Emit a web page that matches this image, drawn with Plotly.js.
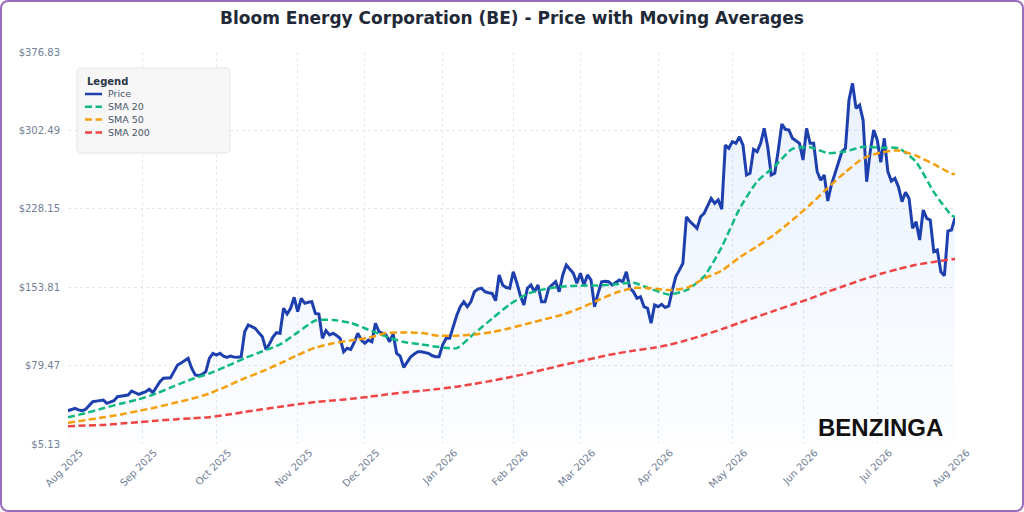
<!DOCTYPE html>
<html>
<head>
<meta charset="utf-8">
<script src="https://cdn.plot.ly/plotly-3.0.1.min.js"></script>
<style>
	html, body { margin: 0; padding: 0; background: #ffffff; }
	#wrap { position: relative; width: 1024px; height: 512px; }
	#chart { width: 1024px; height: 512px; }
	#frame {
		position: absolute; left: 0; top: 0; width: 1024px; height: 512px;
		box-sizing: border-box; border: 2px solid #9a6cbd; border-radius: 8px;
		pointer-events: none;
	}
</style>
</head>
<body>
<div id="wrap">
	<div id="chart"></div>
	<div id="frame"></div>
</div>
<script>
// trading calendar: weekdays from Aug 1 2025 to Aug 3 2026, minus NYSE holidays
const firstDay = '2025-08-01';
const lastDay = '2026-08-03';
const holidays = [
	'2025-09-01', '2025-11-27', '2025-12-25', '2026-01-01', '2026-01-19',
	'2026-02-16', '2026-04-03', '2026-05-25', '2026-06-19', '2026-07-03'
];
const monthNames = ['Jan', 'Feb', 'Mar', 'Apr', 'May', 'Jun', 'Jul', 'Aug', 'Sep', 'Oct', 'Nov', 'Dec'];

// daily close (252 trading days)
const price = [
	36.7, 38.0, 39.0, 37.5, 36.7, 38.0, 41.5, 45.2, 45.8, 46.2,
	46.8, 43.7, 45.0, 46.2, 50.0, 50.6, 51.2, 51.6, 55.4, 53.5,
	52.2, 53.5, 54.7, 57.0, 53.8, 59.0, 64.2, 67.5, 68.0, 68.0,
	74.0, 80.0, 82.0, 83.8, 86.4, 77.0, 70.6, 70.0, 71.2, 73.7,
	86.4, 91.1, 89.5, 91.1, 88.5, 87.3, 88.6, 87.5, 87.3, 87.9,
	111.6, 118.0, 116.5, 114.8, 110.5, 106.9, 94.9, 100.0, 106.5, 110.7,
	110.1, 133.8, 128.4, 133.8, 144.2, 130.6, 143.2, 138.5, 139.5, 140.0,
	129.0, 128.4, 105.3, 112.6, 108.5, 110.1, 108.0, 105.3, 92.6, 95.9,
	94.9, 101.5, 110.1, 103.7, 100.6, 103.7, 102.1, 119.6, 111.6, 110.0,
	108.5, 102.1, 109.4, 91.1, 88.5, 77.8, 83.0, 87.9, 90.5, 92.6,
	92.6, 92.0, 91.1, 89.0, 87.9, 87.9, 99.0, 105.3, 105.3, 116.3,
	127.0, 135.3, 140.0, 135.3, 140.0, 149.5, 152.0, 152.8, 149.5, 148.5,
	147.9, 141.0, 165.4, 155.9, 153.5, 152.8, 168.5, 158.0, 146.0, 136.9,
	152.8, 155.9, 149.5, 155.9, 140.0, 140.0, 152.8, 156.0, 159.0, 149.5,
	165.4, 174.8, 170.5, 167.0, 157.5, 167.0, 155.9, 165.4, 160.6, 135.3,
	148.0, 159.0, 159.5, 159.0, 155.9, 158.5, 160.6, 159.0, 168.5, 152.8,
	149.5, 143.3, 144.8, 135.3, 133.8, 119.6, 136.9, 135.3, 137.6, 134.5,
	136.0, 151.1, 163.8, 170.0, 176.5, 220.6, 216.0, 213.0, 209.6, 220.6,
	223.8, 231.0, 238.0, 233.3, 236.5, 227.7, 288.6, 285.5, 291.8, 290.2,
	296.5, 288.6, 260.2, 261.8, 284.5, 282.3, 290.2, 304.4, 287.0, 260.2,
	261.8, 283.9, 308.5, 303.5, 302.8, 295.0, 292.5, 290.2, 274.4, 304.4,
	290.2, 290.2, 263.3, 255.4, 260.2, 235.5, 250.7, 261.0, 271.3, 282.3,
	285.5, 331.3, 347.1, 323.4, 326.5, 312.3, 253.8, 282.3, 302.8, 293.4,
	272.2, 295.0, 263.3, 254.5, 257.0, 249.0, 234.9, 243.8, 238.0, 209.6,
	215.9, 198.6, 227.0, 219.1, 217.5, 187.5, 189.1, 168.5, 164.7, 207.0,
	208.0, 219.7
];

// moving averages, read every 5 trading days
const smaIdx = [
	0, 5, 10, 15, 20, 25, 30, 35, 40, 45, 50, 55, 60, 65, 70, 75, 80, 85, 90, 95,
	100, 105, 110, 115, 120, 125, 130, 135, 140, 145, 150, 155, 160, 165, 170, 175,
	180, 185, 190, 195, 200, 205, 210, 215, 220, 225, 230, 235, 240, 245, 250, 251
];
const sma20 = [
	30.4, 34.5, 39.0, 43.5, 47.5, 53.0, 60.0, 66.5, 72.0, 79.0, 86.5, 93.0, 99.5,
	111.0, 122.2, 122.7, 120.0, 113.5, 107.0, 101.8, 99.6, 97.0, 96.0, 110.0, 124.0,
	137.5, 147.5, 152.0, 154.5, 155.2, 155.5, 156.5, 158.0, 152.0, 147.0, 151.0,
	164.0, 192.0, 228.0, 254.0, 268.5, 285.0, 286.5, 281.0, 282.5, 287.0, 286.0,
	285.6, 272.5, 244.0, 222.0, 220.6
];
const sma50 = [
	25.3, 27.8, 30.4, 33.2, 36.5, 40.0, 44.0, 48.0, 53.0, 60.0, 67.5, 74.0, 81.5,
	89.5, 96.5, 100.6, 103.4, 105.8, 110.3, 110.9, 110.3, 107.8, 107.8, 109.0, 111.2,
	114.8, 119.2, 123.5, 127.8, 134.0, 141.5, 148.5, 153.0, 152.8, 151.1, 153.0,
	162.0, 169.5, 182.0, 192.5, 204.0, 217.5, 232.0, 248.0, 263.0, 276.0, 281.5,
	283.5, 278.5, 270.5, 261.5, 260.8
];
const sma200 = [
	22.0, 22.6, 23.2, 24.5, 25.9, 27.2, 28.4, 29.5, 30.6, 32.8, 35.5, 38.0, 40.5,
	42.8, 44.9, 46.4, 48.0, 49.8, 52.0, 54.0, 55.6, 57.4, 59.5, 62.2, 65.2, 68.5,
	72.0, 76.0, 80.0, 83.6, 87.4, 90.8, 93.6, 96.0, 99.0, 103.5, 108.5, 114.0,
	120.0, 125.8, 131.6, 137.4, 143.0, 149.5, 155.4, 161.2, 166.5, 171.0, 175.0,
	177.8, 180.2, 180.6
];

const yTicks = [5.13, 79.47, 153.81, 228.15, 302.49, 376.83];

function tradingDays(from, to, skip) {
	const out = [];
	const d = new Date(from + 'T12:00:00Z');
	const end = new Date(to + 'T12:00:00Z');
	while (d <= end) {
		const s = d.toISOString().slice(0, 10);
		const wd = d.getUTCDay();
		if (wd !== 0 && wd !== 6 && !skip.includes(s)) out.push(s);
		d.setUTCDate(d.getUTCDate() + 1);
	}
	return out;
}

const dates = tradingDays(firstDay, lastDay, holidays);

// first trading day of each month -> tick
const tickVals = [];
const tickText = [];
dates.forEach((s, i) => {
	if (i === 0 || s.slice(5, 7) !== dates[i - 1].slice(5, 7)) {
		tickVals.push(s);
		tickText.push(monthNames[+s.slice(5, 7) - 1] + ' ' + s.slice(0, 4));
	}
});

const smaDates = smaIdx.map(i => dates[Math.min(i, dates.length - 1)]);
const DASH = '7px,3.5px';

const dashLine = (name, y, color) => ({
	x: smaDates,
	y: y,
	name: name,
	type: 'scatter',
	mode: 'lines',
	line: { color: color, width: 2.5, dash: DASH, shape: 'spline', smoothing: 0.6 },
	hoverinfo: 'skip',
});

const data = [
	{
		x: dates,
		y: price,
		name: 'Price',
		type: 'scatter',
		mode: 'lines',
		line: { color: '#1e40af', width: 3 },
		fill: 'tozeroy',
		fillgradient: {
			type: 'vertical',
			colorscale: [[0, 'rgba(59,130,246,0.01)'], [1, 'rgba(59,130,246,0.11)']],
		},
	},
	dashLine('SMA 20', sma20, '#10b981'),
	dashLine('SMA 50', sma50, '#f59e0b'),
	dashLine('SMA 200', sma200, '#ef4444'),
];

// plot box in pixels, used to place the drawn legend
const M = { l: 68, r: 69, t: 52, b: 68 };
const plotW = 1024 - M.l - M.r;
const plotH = 512 - M.t - M.b;
const px = x => (x - M.l) / plotW;
const py = y => (512 - M.b - y) / plotH;

// legend box with rounded corners, drawn as a paper path
function roundRect(x0, y0, x1, y1, r) {
	const rx = r / plotW, ry = r / plotH;
	const a = px(x0), b = px(x1), c = py(y1), d = py(y0);
	return `M${a + rx},${d} L${b - rx},${d} Q${b},${d} ${b},${d - ry} L${b},${c + ry} Q${b},${c} ${b - rx},${c} ` +
		`L${a + rx},${c} Q${a},${c} ${a},${c + ry} L${a},${d - ry} Q${a},${d} ${a + rx},${d} Z`;
}

const shapes = [
	{
		type: 'path', xref: 'paper', yref: 'paper', layer: 'above',
		path: roundRect(77, 68, 230, 153, 5),
		fillcolor: 'rgba(247,247,248,0.95)',
		line: { color: '#e2e4e8', width: 1 },
	},
];
const annotations = [
	{
		text: '<b>Legend</b>', xref: 'paper', yref: 'paper',
		x: px(85), y: py(81.5), xanchor: 'left', yanchor: 'middle', showarrow: false,
		font: { family: 'DejaVu Sans, sans-serif', size: 10, color: '#2d3748' },
	},
];
data.forEach((tr, i) => {
	const yy = 94 + i * 12.8;
	shapes.push({
		type: 'line', xref: 'paper', yref: 'paper', layer: 'above',
		x0: px(85), x1: px(102), y0: py(yy), y1: py(yy),
		line: { color: tr.line.color, width: 2.5, dash: i === 0 ? 'solid' : DASH },
	});
	annotations.push({
		text: tr.name, xref: 'paper', yref: 'paper',
		x: px(106), y: py(yy), xanchor: 'left', yanchor: 'middle', showarrow: false,
		font: { family: 'DejaVu Sans, sans-serif', size: 9.5, color: '#4a5568' },
	});
});
annotations.push({
	text: '<b>BENZINGA</b>',
	xref: 'paper', yref: 'paper',
	x: px(880), y: py(427),
	xanchor: 'center', yanchor: 'middle', showarrow: false,
	font: { family: 'Liberation Sans, Arial, sans-serif', size: 24, color: '#111111' },
});

const layout = {
	width: 1024,
	height: 512,
	margin: { l: M.l, r: M.r, t: M.t, b: M.b, pad: 0 },
	paper_bgcolor: 'rgba(0,0,0,0)',
	plot_bgcolor: '#ffffff',
	font: { family: 'DejaVu Sans, sans-serif', color: '#718096', size: 10 },
	title: {
		text: '<b>Bloom Energy Corporation (BE) - Price with Moving Averages</b>',
		font: { family: 'DejaVu Sans, sans-serif', size: 17, color: '#1f2937' },
		x: 0.5,
		xanchor: 'center',
		y: 0.965,
		yanchor: 'middle',
	},
	xaxis: {
		type: 'category',
		range: [0, dates.length - 1],
		tickvals: tickVals,
		ticktext: tickText,
		tickangle: -45,
		ticklabelshift: 12,
		tickfont: { size: 10, color: '#718096' },
		showgrid: true,
		gridcolor: '#e5e7eb',
		griddash: 'dot',
		gridwidth: 1,
		zeroline: false,
		showline: false,
		ticks: '',
		automargin: false,
	},
	yaxis: {
		range: [yTicks[0], yTicks[yTicks.length - 1]],
		tickvals: yTicks,
		ticktext: yTicks.map(v => '$' + v.toFixed(2)),
		tickfont: { size: 10, color: '#718096' },
		ticklabelstandoff: 7,
		showgrid: true,
		gridcolor: '#e5e7eb',
		griddash: 'dot',
		gridwidth: 1,
		zeroline: false,
		showline: false,
		ticks: '',
		automargin: false,
	},
	showlegend: false,
	shapes: shapes,
	annotations: annotations,
};

Plotly.newPlot('chart', data, layout, { displayModeBar: false, staticPlot: true });
</script>
</body>
</html>
